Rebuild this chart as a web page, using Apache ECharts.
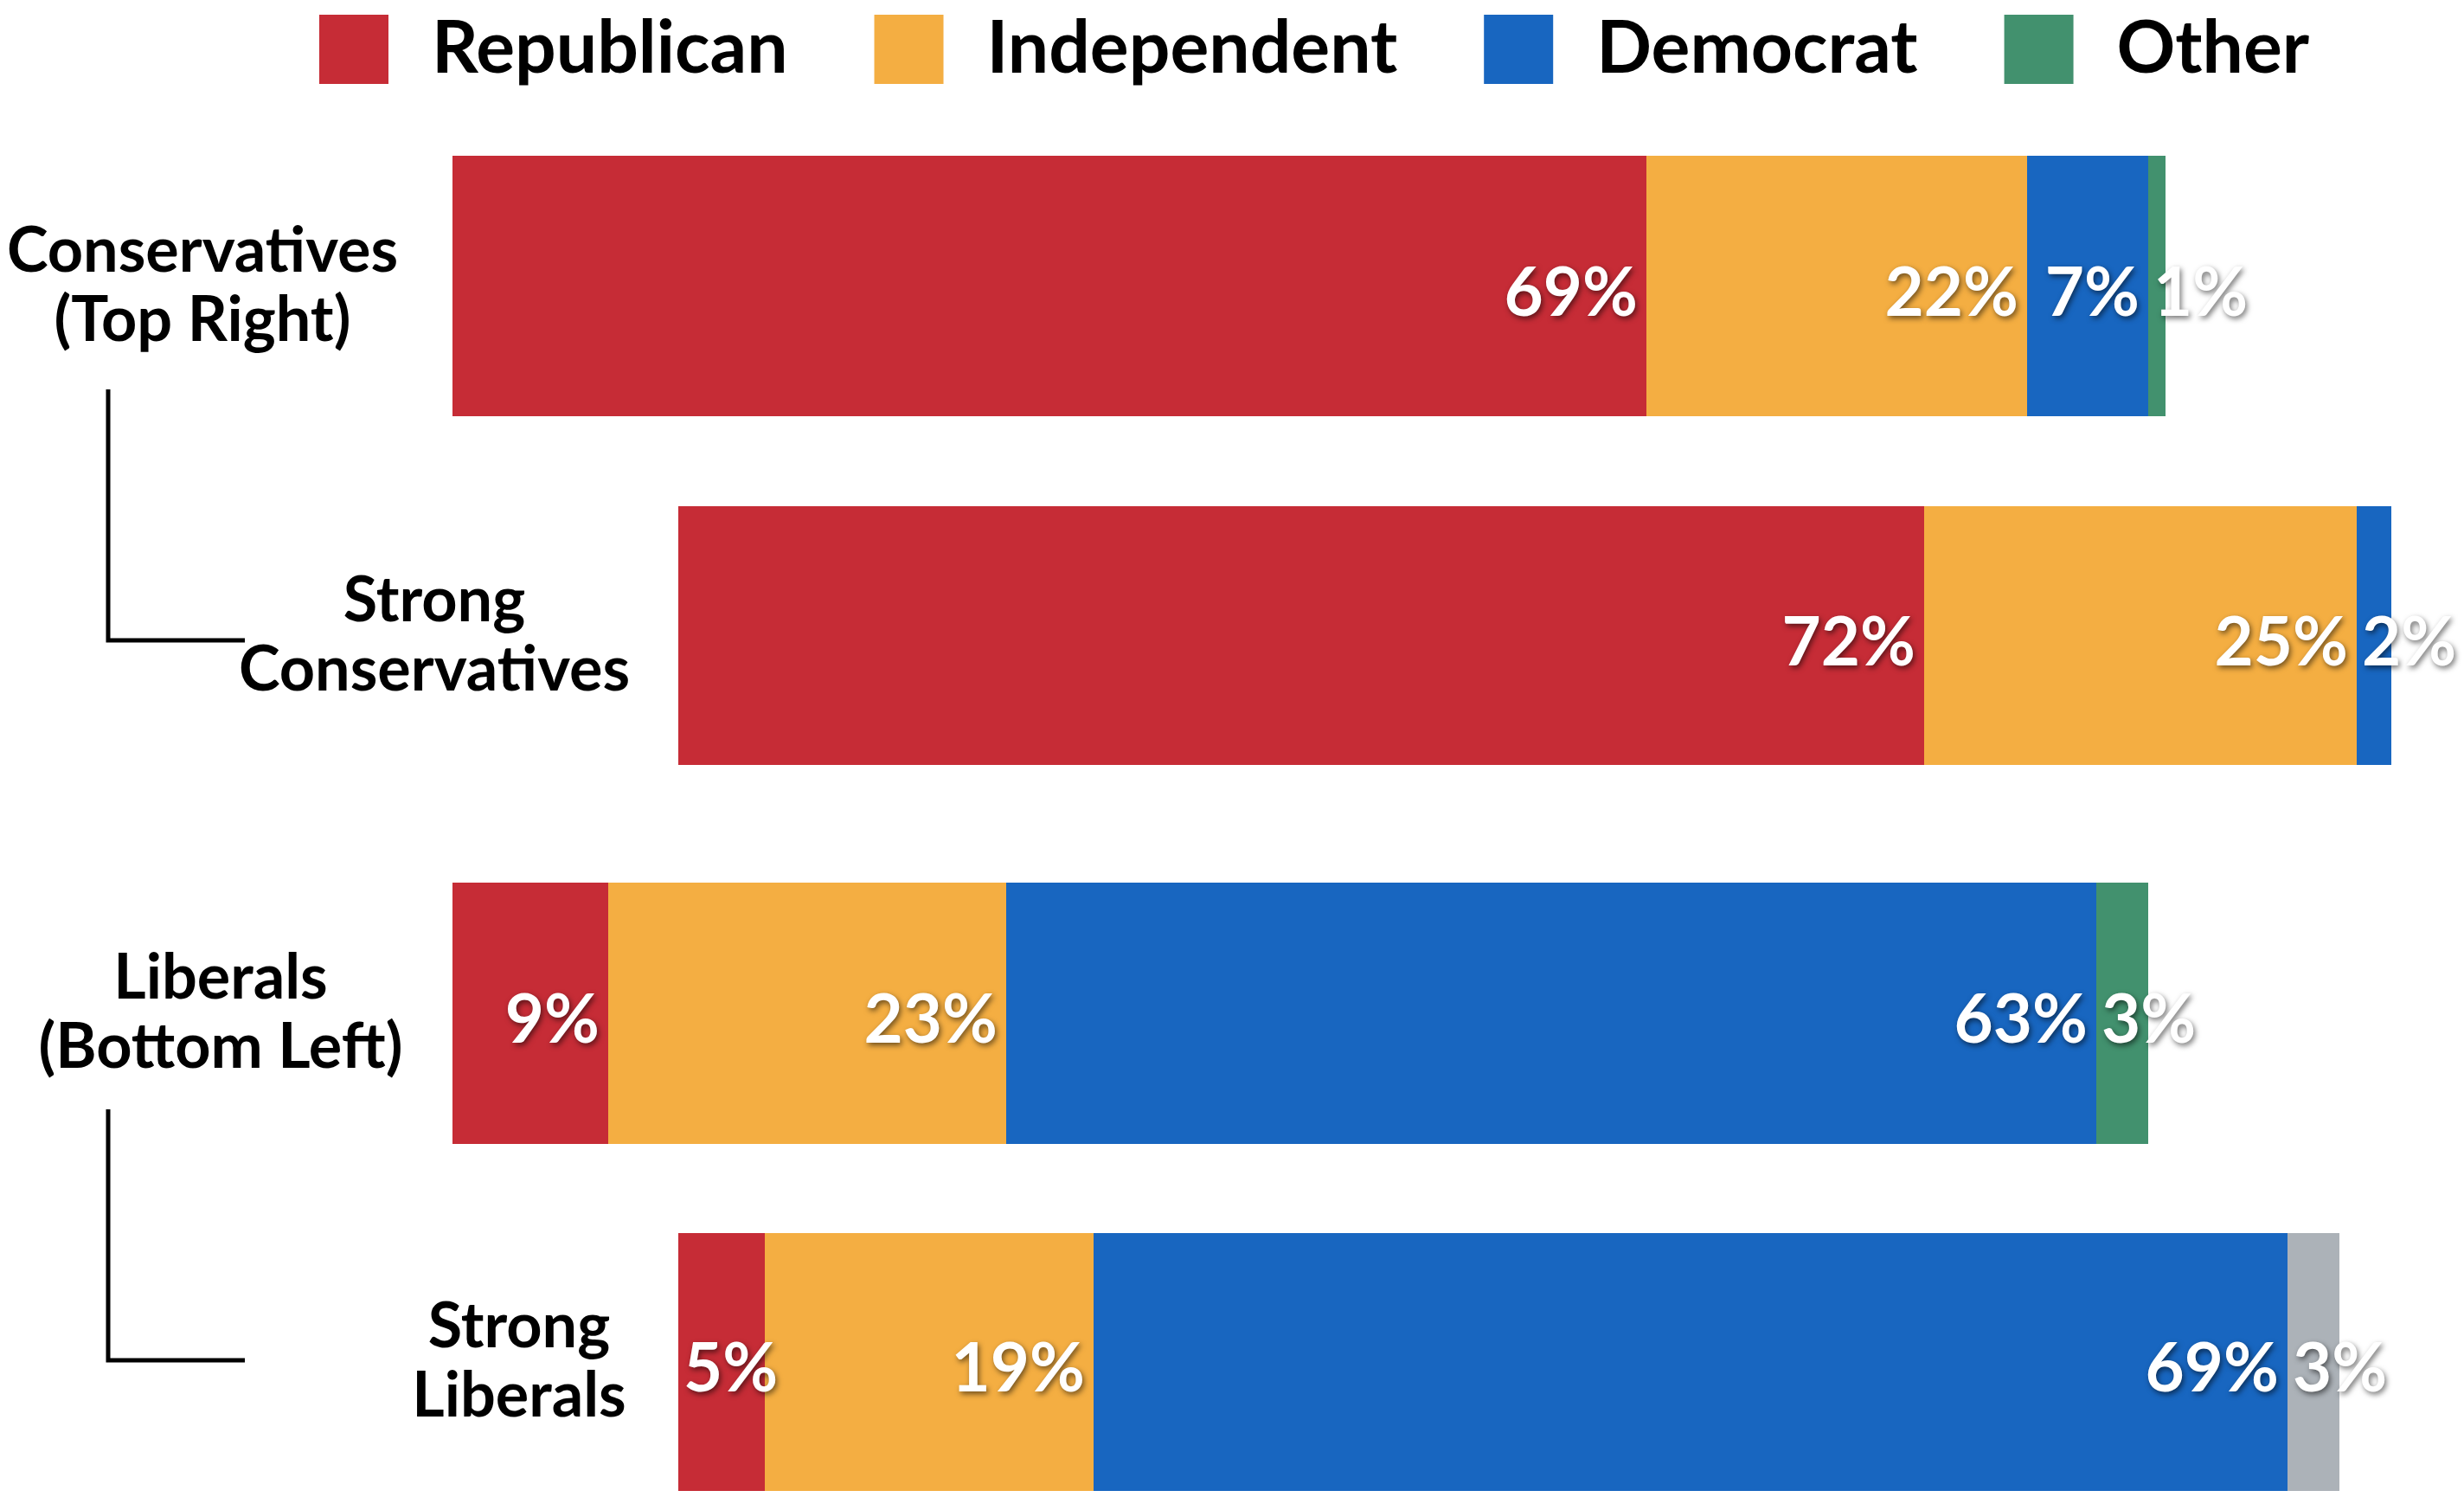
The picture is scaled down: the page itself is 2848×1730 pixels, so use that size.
<!DOCTYPE html>
<html>
<head>
<meta charset="utf-8">
<script src="https://cdn.jsdelivr.net/npm/echarts@6/dist/echarts.min.js"></script>
<style>
html,body{margin:0;padding:0;background:#fff;}
#chart{width:2848px;height:1730px;}
</style>
</head>
<body>
<div id="chart"></div>
<script>
// ---- data ----
const categories = ['Conservatives\n(Top Right)', 'Strong\nConservatives', 'Liberals\n(Bottom Left)', 'Strong\nLiberals'];
const republican = [69, 72, 9, 5];
const independent = [22, 25, 23, 19];
const democrat = [7, 2, 63, 69];
const other = [1, 0, 3, 3];
const seriesNames = ['Republican', 'Independent', 'Democrat', 'Other'];

// ---- styles / layout ----
const COLORS = { Republican: '#C62C36', Independent: '#F4AE42', Democrat: '#1866C0', Other: '#42916E' };
const OTHER_GREY = '#ACB2B8';
const FONT = 'Lato, "Noto Sans", sans-serif';
const rowLayout = [
  { left: 523, top: 180, height: 301, labelMargin: 289 },
  { left: 784, top: 585, height: 299, labelMargin: 282 },
  { left: 523, top: 1020, height: 302, labelMargin: 268 },
  { left: 784, top: 1425, height: 298, labelMargin: 184 }
];
const valuesByName = { Republican: republican, Independent: independent, Democrat: democrat, Other: other };

const grids = [], xAxes = [], yAxes = [], series = [];
rowLayout.forEach((r, i) => {
  grids.push({ left: r.left, top: r.top, width: 2000, height: r.height, containLabel: false, outerBoundsMode: 'none' });
  xAxes.push({ type: 'value', gridIndex: i, min: 0, max: 100, show: false });
  yAxes.push({
    type: 'category', gridIndex: i, data: [categories[i]],
    axisLine: { show: false }, axisTick: { show: false }, splitLine: { show: false },
    axisLabel: {
      margin: r.labelMargin, align: 'center', color: '#000',
      fontFamily: FONT, fontWeight: 'bold', fontSize: 72, lineHeight: 80,
      padding: [24, 0, 0, 0]
    }
  });
  seriesNames.forEach(name => {
    const v = valuesByName[name][i];
    const small = v < 6;
    series.push({
      type: 'bar', name: name, stack: 'row' + i, xAxisIndex: i, yAxisIndex: i,
      barWidth: '100%',
      itemStyle: { color: (name === 'Other' && i === 3) ? OTHER_GREY : COLORS[name] },
      label: {
        show: true,
        position: small ? 'insideLeft' : 'insideRight',
        distance: small ? 6 : 10,
        offset: [0, 9],
        formatter: p => p.value ? p.value + '%' : '',
        color: '#fff', fontFamily: FONT, fontWeight: 'bold', fontSize: 78,
        textShadowColor: 'rgba(0,0,0,0.55)', textShadowBlur: 6, textShadowOffsetX: 2, textShadowOffsetY: 3
      },
      emphasis: { disabled: true },
      data: [v]
    });
  });
});

const chart = echarts.init(document.getElementById('chart'), null, { renderer: 'canvas' });
chart.setOption({
  animation: false,
  color: seriesNames.map(n => COLORS[n]),
  legend: {
    data: seriesNames, top: 15, left: 369, padding: 0,
    icon: 'rect', itemWidth: 80, itemHeight: 80, itemGap: 100,
    textStyle: { fontFamily: FONT, fontWeight: 'bold', fontSize: 84, color: '#000', padding: [10, 0, 0, 45] }
  },
  grid: grids, xAxis: xAxes, yAxis: yAxes, series: series,
  graphic: [
    { type: 'polyline', shape: { points: [[125, 450], [125, 740], [283, 740]] }, style: { stroke: '#000', lineWidth: 5, fill: null } },
    { type: 'polyline', shape: { points: [[125, 1282], [125, 1572], [283, 1572]] }, style: { stroke: '#000', lineWidth: 5, fill: null } }
  ]
});
</script>
</body>
</html>
